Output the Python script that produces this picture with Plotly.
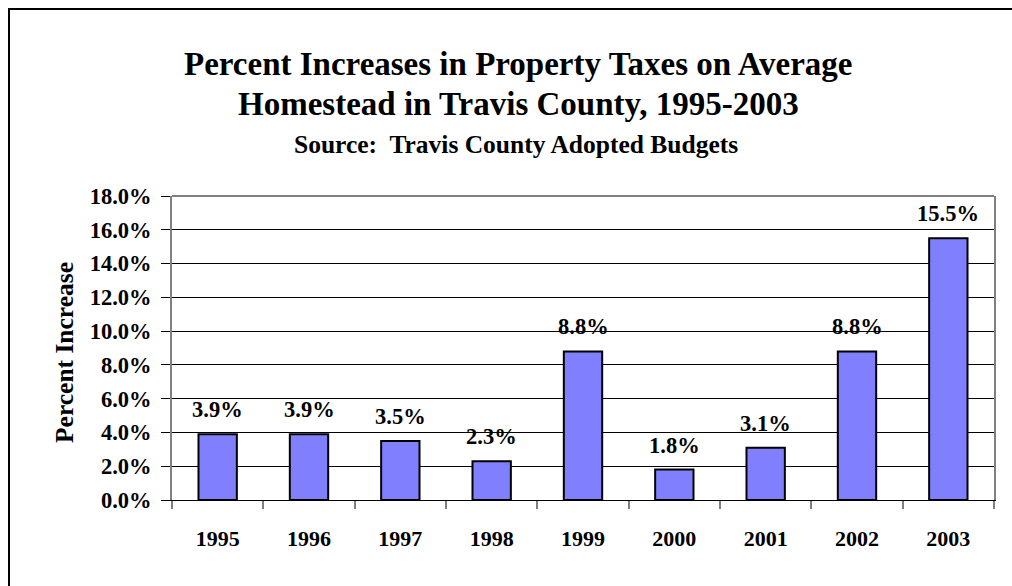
import plotly.graph_objects as go

years = ["1995", "1996", "1997", "1998", "1999", "2000", "2001", "2002", "2003"]
pct_increase = [3.9, 3.9, 3.5, 2.3, 8.8, 1.8, 3.1, 8.8, 15.5]
y_ticks = [0, 2, 4, 6, 8, 10, 12, 14, 16, 18]

W, H = 1012, 586
L, R, T, B = 172, 18, 196, 86
PW, PH = W - L - R, H - T - B

FONT = "Liberation Serif"
BAR_FILL = "#8080FF"
AXIS_GRAY = "#808080"


def px_x(px):
    return (px - L) / PW


def px_y(py):
    return (H - B - py) / PH


def centered_text(text, cx, cy, size, angle=0):
    fig.add_annotation(
        x=px_x(cx), y=px_y(cy), xref="paper", yref="paper",
        xanchor="center", yanchor="middle",
        text=text, showarrow=False, textangle=angle,
        font=dict(family=FONT, size=size, color="black", weight="bold"),
    )


fig = go.Figure()
fig.add_trace(go.Bar(
    x=years,
    y=pct_increase,
    marker=dict(color=BAR_FILL, line=dict(color="black", width=2)),
    width=0.42,
    hoverinfo="skip",
))

# value labels above each bar (category axis: position by category index)
for i, v in enumerate(pct_increase):
    fig.add_annotation(
        x=i, y=v, xref="x", yref="y",
        text=f"{v:.1f}%", showarrow=False,
        xanchor="center", yanchor="bottom", yshift=10,
        font=dict(family=FONT, size=22.5, color="black", weight="bold"),
    )

# titles
centered_text("Percent Increases in Property Taxes on Average", 518, 64, 33)
centered_text("Homestead in Travis County, 1995-2003", 518, 104, 33)
centered_text("Source:  Travis County Adopted Budgets", 516, 144, 25.5)
centered_text("Percent Increase", 64, 353, 25.5, angle=-90)

# outer frame and top border of plot area
fig.add_shape(type="rect", xref="paper", yref="paper",
              x0=px_x(9), x1=px_x(1100), y0=px_y(700), y1=px_y(9),
              line=dict(color="black", width=2), layer="above")
fig.add_shape(type="line", xref="paper", yref="paper",
              x0=0, x1=1, y0=1, y1=1,
              line=dict(color=AXIS_GRAY, width=2), layer="above")

fig.update_layout(
    width=W, height=H,
    margin=dict(l=L, r=R, t=T, b=B),
    paper_bgcolor="white", plot_bgcolor="white",
    showlegend=False,
    bargap=0.58,
)
fig.update_xaxes(
    type="category",
    showline=True, linecolor="black", linewidth=1,
    ticks="outside", tickson="boundaries", ticklen=8, tickcolor=AXIS_GRAY, tickwidth=2,
    showgrid=False,
    tickfont=dict(family=FONT, size=22, color="black", weight="bold"),
    ticklabelstandoff=19,
)
fig.update_yaxes(
    range=[0, 18],
    tickvals=y_ticks,
    ticktext=[f"{v:.1f}%" for v in y_ticks],
    showline=True, linecolor=AXIS_GRAY, linewidth=2, mirror=True,
    ticks="outside", ticklen=9, tickcolor="black", tickwidth=1,
    showgrid=True, gridcolor="black", gridwidth=1,
    zeroline=False,
    tickfont=dict(family=FONT, size=22.5, color="black", weight="bold"),
    ticklabelstandoff=5,
)

fig.write_html("out.html")
